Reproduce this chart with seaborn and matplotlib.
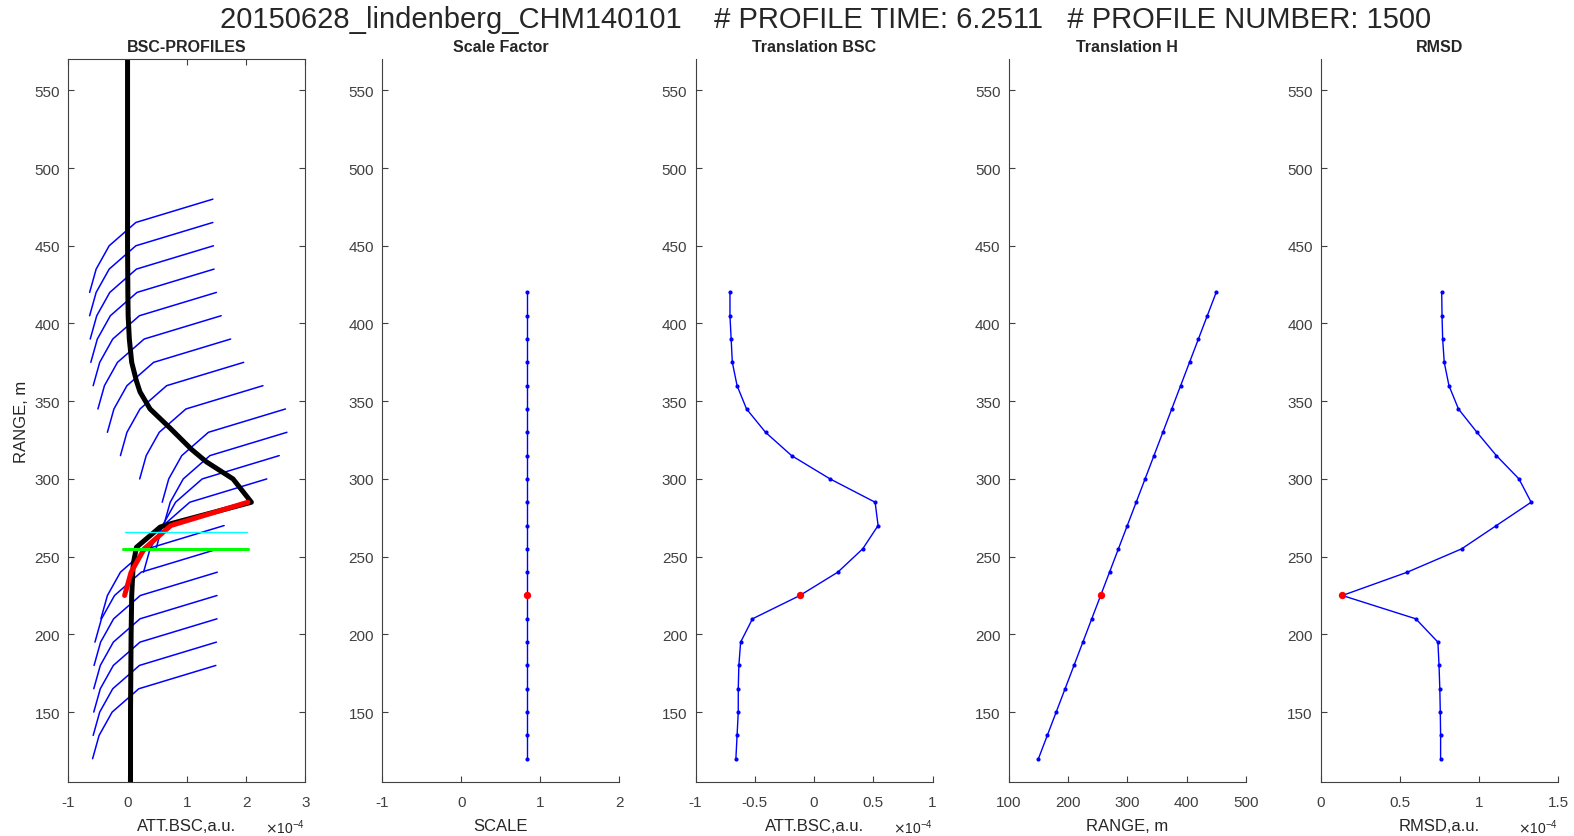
import matplotlib
matplotlib.use('Agg')
import matplotlib.pyplot as plt
import pandas as pd
import seaborn as sns

# Range gates of the fitted windows (m)
heights = [120, 135, 150, 165, 180, 195, 210, 225, 240, 255, 270, 285, 300, 315, 330, 345, 360, 375, 390, 405, 420]
best_height = 225

# Fit results per window (BSC values in units of 1e-4)
scale_factor = [0.83] * 21
translation_bsc = [-0.66, -0.65, -0.64, -0.64, -0.635, -0.62, -0.52, -0.12, 0.20, 0.41, 0.54,
                   0.515, 0.135, -0.19, -0.41, -0.57, -0.65, -0.69, -0.70, -0.71, -0.71]
translation_h = [150, 165, 180, 195, 210, 225, 240, 255, 270, 285, 300, 315, 330, 345, 360,
                 375, 390, 405, 420, 435, 450]
rmsd = [0.757, 0.757, 0.755, 0.752, 0.747, 0.74, 0.60, 0.135, 0.546, 0.89, 1.11, 1.33, 1.253,
        1.11, 0.987, 0.87, 0.81, 0.78, 0.77, 0.766, 0.764]

# Measured backscatter profile (black)
profile_h = [100, 150, 200, 225, 245, 256, 269, 271, 285, 300, 311, 319, 333, 345, 356, 363,
             375, 390, 405, 420, 450, 500, 580]
profile_bsc = [0.05, 0.05, 0.06, 0.07, 0.095, 0.15, 0.55, 0.71, 2.09, 1.78, 1.33, 1.08, 0.71,
               0.38, 0.21, 0.15, 0.07, 0.03, 0.01, 0.005, 0.0, 0.0, 0.0]

# Template segment (5 gates, 60 m) that is slid over the profile
template_dh = [0, 15, 30, 45, 60]
template_bsc = [0.07, 0.18, 0.40, 0.85, 2.15]

# Reference level lines
green_level = 255
cyan_level = 266

title = '20150628_lindenberg_CHM140101    # PROFILE TIME: 6.2511   # PROFILE NUMBER: 1500'

sns.set_style('ticks')
plt.rcParams['font.family'] = ['Liberation Sans', 'DejaVu Sans']
plt.rcParams['axes.unicode_minus'] = False
plt.rcParams['xtick.direction'] = 'in'
plt.rcParams['ytick.direction'] = 'in'
plt.rcParams['xtick.major.size'] = 4.5
plt.rcParams['ytick.major.size'] = 4.5
plt.rcParams['xtick.major.pad'] = 9
plt.rcParams['ytick.major.pad'] = 6
gray = '#404040'
plt.rcParams['axes.edgecolor'] = gray
plt.rcParams['xtick.color'] = gray
plt.rcParams['ytick.color'] = gray
plt.rcParams['axes.labelcolor'] = '#262626'

df = pd.DataFrame({'h': heights, 'scale': scale_factor, 'tbsc': translation_bsc,
                   'th': translation_h, 'rmsd': rmsd})
best = df[df['h'] == best_height]

fig = plt.figure(figsize=(15.74, 8.37), dpi=100)
lefts = [68.3, 382.4, 695.6, 1008.8, 1321.0]
axes = [fig.add_axes([l / 1574, 0.0645, 237 / 1574, 0.8635]) for l in lefts]

# Panel 1: BSC profiles
ax = axes[0]
for i, row in df.iterrows():
    seg = pd.DataFrame({'x': [t + row['tbsc'] for t in template_bsc],
                        'y': [row['h'] + d for d in template_dh]})
    sns.lineplot(data=seg, x='x', y='y', sort=False, estimator=None, color='blue',
                 linewidth=1.1, ax=ax)
sns.lineplot(x=profile_bsc, y=profile_h, sort=False, estimator=None, color='black',
             linewidth=3.6, ax=ax)
bi = heights.index(best_height)
sns.lineplot(x=[t + translation_bsc[bi] for t in template_bsc],
             y=[best_height + d for d in template_dh], sort=False, estimator=None,
             color='red', linewidth=3.6, ax=ax)
ax.plot([-0.045, 2.02], [cyan_level, cyan_level], color='cyan', linewidth=1.0)
ax.plot([-0.07, 2.04], [green_level, green_level], color='lime', linewidth=2.2)
ax.set_xlim(-1, 3)
ax.set_xticks([-1, 0, 1, 2, 3])
ax.set_ylabel('RANGE, m', fontsize=12)
ax.set_xlabel('ATT.BSC,a.u.', fontsize=12)
ax.set_title('BSC-PROFILES', fontsize=11.5, fontweight='bold', pad=6)
ax.tick_params(top=True, right=True)

# Panels 2-5: fit parameters
specs = [
    ('scale', 'Scale Factor', 'SCALE', (-1, 2), [-1, 0, 1, 2], ['-1', '0', '1', '2'], False),
    ('tbsc', 'Translation BSC', 'ATT.BSC,a.u.', (-1, 1), [-1, -0.5, 0, 0.5, 1],
     ['-1', '-0.5', '0', '0.5', '1'], True),
    ('th', 'Translation H', 'RANGE, m', (100, 500), [100, 200, 300, 400, 500],
     ['100', '200', '300', '400', '500'], False),
    ('rmsd', 'RMSD', 'RMSD,a.u.', (0, 1.5), [0, 0.5, 1, 1.5], ['0', '0.5', '1', '1.5'], True),
]
for ax, (col, ttl, xl, xlim, xt, xtl, expo) in zip(axes[1:], specs):
    sns.lineplot(data=df, x=col, y='h', sort=False, estimator=None, color='blue',
                 linewidth=1.0, marker='o', markersize=3, markeredgewidth=0, ax=ax)
    sns.scatterplot(data=best, x=col, y='h', color='red', s=28, linewidth=0, ax=ax, zorder=5)
    ax.set_xlim(*xlim)
    ax.set_xticks(xt)
    ax.set_xticklabels(xtl)
    ax.set_title(ttl, fontsize=11.5, fontweight='bold', pad=6)
    ax.set_xlabel(xl, fontsize=12)
    ax.set_ylabel('')
    sns.despine(ax=ax)
    if expo:
        ax.text(1.0, -0.062, r'$\times\mathregular{10^{-4}}$', transform=ax.transAxes,
                ha='right', va='center', fontsize=10, color='#262626')
axes[0].text(1.0, -0.062, r'$\times\mathregular{10^{-4}}$', transform=axes[0].transAxes,
             ha='right', va='center', fontsize=10, color='#262626')

for ax in axes:
    ax.set_ylim(105, 570)
    ax.set_yticks([150, 200, 250, 300, 350, 400, 450, 500, 550])
    ax.tick_params(labelsize=11)
    ax.xaxis.labelpad = 7

fig.text(0.5246, 1 - 28 / 837, title, ha='center', va='baseline', fontsize=21)

fig.savefig('out.png', dpi=100)
